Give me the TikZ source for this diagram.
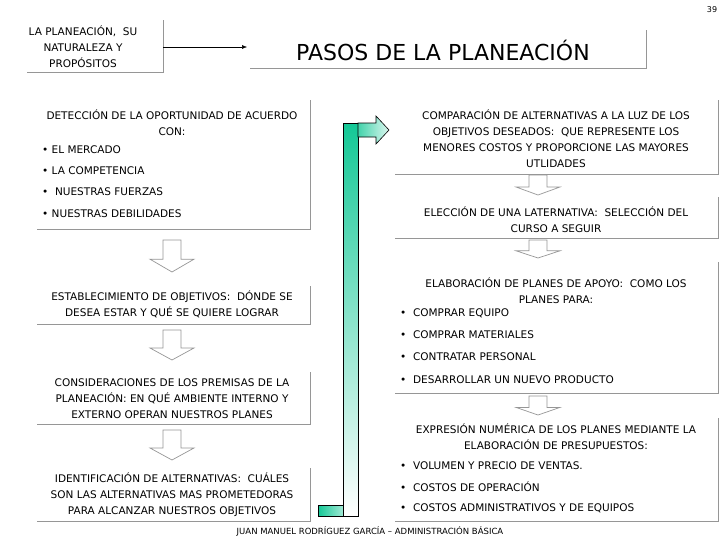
\documentclass[tikz,border=0pt]{standalone}
\usepackage{fontspec}
\setmainfont{DejaVu Sans}
\usetikzlibrary{arrows.meta}
\definecolor{shadowgray}{RGB}{150,150,150}
\definecolor{bargreen}{RGB}{20,200,150}
\tikzset{
  txt/.style={font=\fontsize{10.5}{16}\selectfont, inner sep=0pt, anchor=center},
  ltxt/.style={font=\fontsize{10.5}{16}\selectfont, inner sep=0pt, anchor=west},
  shadowline/.style={draw=shadowgray, line width=0.8pt},
  downarrow/.style={draw=shadowgray, fill=white, line width=0.7pt},
}
\newcommand{\dnarrow}[3]{% x, ytop, ybottom
  \draw[downarrow] ({#1-9},{#2}) -- ({#1+9},{#2}) -- ({#1+9},{#2+0.6*(#3-#2)}) -- ({#1+22},{#2+0.6*(#3-#2)}) -- ({#1},{#3}) -- ({#1-22},{#2+0.6*(#3-#2)}) -- ({#1-9},{#2+0.6*(#3-#2)}) -- cycle;}
\newcommand{\shbox}[5]{% name, x1,y1,x2,y2
  \coordinate (#1-nw) at (#2,#3); \coordinate (#1-se) at (#4,#5);
  \draw[shadowline] (#4,#3) -- (#1-se) -- (#2,#5);}
\begin{document}
\begin{tikzpicture}[x=1pt,y=-1pt]
\useasboundingbox (0,0) rectangle (728,546);
\node[font=\fontsize{8}{9}\selectfont] (pg) at (712,10) {39};
% top left box
\shbox{b0}{27}{20}{163}{72}
\node[txt, align=center] (t0) at (83,47) {LA PLANEACIÓN,\ \ SU\\NATURALEZA Y\\PROPÓSITOS};
\coordinate (tarr) at (247,47);
\draw[-{Latex[length=5pt,width=4pt]}, line width=0.5pt] (163,47) -- (tarr);
% title
\shbox{bt}{250}{30}{646}{68}
\node[font=\fontsize{22}{26}\selectfont, inner sep=0pt] (title) at (443,50) {PASOS DE LA PLANEACIÓN};
% detection box
\shbox{b1}{37}{100}{310}{229}
\node[txt, align=center] (t1) at (172,123) {DETECCIÓN DE LA OPORTUNIDAD DE ACUERDO\\CON:};
\node[ltxt] (t1a) at (42,150) {• EL MERCADO};
\node[ltxt] (t1b) at (42,171) {• LA COMPETENCIA};
\node[ltxt] (t1c) at (42,192) {•\ \ NUESTRAS FUERZAS};
\node[ltxt] (t1d) at (42,214) {• NUESTRAS DEBILIDADES};
\dnarrow{172}{240}{272}
\shbox{b2}{37}{286}{310}{324}
\node[txt, align=center] (t2) at (172,304) {ESTABLECIMIENTO DE OBJETIVOS:\ \ DÓNDE SE\\DESEA ESTAR Y QUÉ SE QUIERE LOGRAR};
\dnarrow{172}{330}{360}
\shbox{b3}{37}{372}{310}{424}
\node[txt, align=center] (t3) at (172,399) {CONSIDERACIONES DE LOS PREMISAS DE LA\\PLANEACIÓN: EN QUÉ AMBIENTE INTERNO Y\\EXTERNO OPERAN NUESTROS PLANES};
\dnarrow{172}{430}{460}
\shbox{b4}{37}{468}{310}{521}
\node[txt, align=center] (t4) at (172,495) {IDENTIFICACIÓN DE ALTERNATIVAS:\ \ CUÁLES\\SON LAS ALTERNATIVAS MAS PROMETEDORAS\\PARA ALCANZAR NUESTROS OBJETIVOS};
% connector bar
\shade[top color=bargreen, bottom color=white, draw=black, line width=0.6pt] (343,123) rectangle (358,516);
\shade[left color=bargreen, right color=bargreen!40, draw=black, line width=0.6pt] (318,505) rectangle (343,516);
\shade[left color=bargreen!80, right color=bargreen!15, draw=black, line width=0.6pt] (358,123) -- (376,123) -- (376,116) -- (389,130) -- (376,144) -- (376,137) -- (358,137) -- cycle;
% right column
\shbox{r1}{395}{100}{718}{174}
\node[txt, align=center] (u1) at (556,139) {COMPARACIÓN DE ALTERNATIVAS A LA LUZ DE LOS\\OBJETIVOS DESEADOS:\ \ QUE REPRESENTE LOS\\MENORES COSTOS Y PROPORCIONE LAS MAYORES\\UTLIDADES};
\dnarrow{538}{175}{195}
\shbox{r2}{395}{197}{718}{238}
\node[txt, align=center] (u2) at (556,220) {ELECCIÓN DE UNA LATERNATIVA:\ \ SELECCIÓN DEL\\CURSO A SEGUIR};
\dnarrow{538}{240}{258}
\shbox{r3}{395}{262}{718}{393}
\node[txt, align=center] (u3) at (556,291) {ELABORACIÓN DE PLANES DE APOYO:\ \ COMO LOS\\PLANES PARA:};
\node[ltxt] (u3a) at (400,313) {•\ \ COMPRAR EQUIPO};
\node[ltxt] (u3b) at (400,335) {•\ \ COMPRAR MATERIALES};
\node[ltxt] (u3c) at (400,357) {•\ \ CONTRATAR PERSONAL};
\node[ltxt] (u3d) at (400,380) {•\ \ DESARROLLAR UN NUEVO PRODUCTO};
\dnarrow{538}{396}{415}
\shbox{r4}{395}{418}{718}{521}
\node[txt, align=center] (u4) at (556,437) {EXPRESIÓN NUMÉRICA DE LOS PLANES MEDIANTE LA\\ELABORACIÓN DE PRESUPUESTOS:};
\node[ltxt] (u4a) at (400,466) {•\ \ VOLUMEN Y PRECIO DE VENTAS.};
\node[ltxt] (u4b) at (400,487) {•\ \ COSTOS DE OPERACIÓN};
\node[ltxt] (u4c) at (400,508) {•\ \ COSTOS ADMINISTRATIVOS Y DE EQUIPOS};
\node[font=\fontsize{8.5}{10}\selectfont, inner sep=0pt] (foot) at (370,531) {JUAN MANUEL RODRÍGUEZ GARCÍA – ADMINISTRACIÓN BÁSICA};
\end{tikzpicture}
\end{document}
